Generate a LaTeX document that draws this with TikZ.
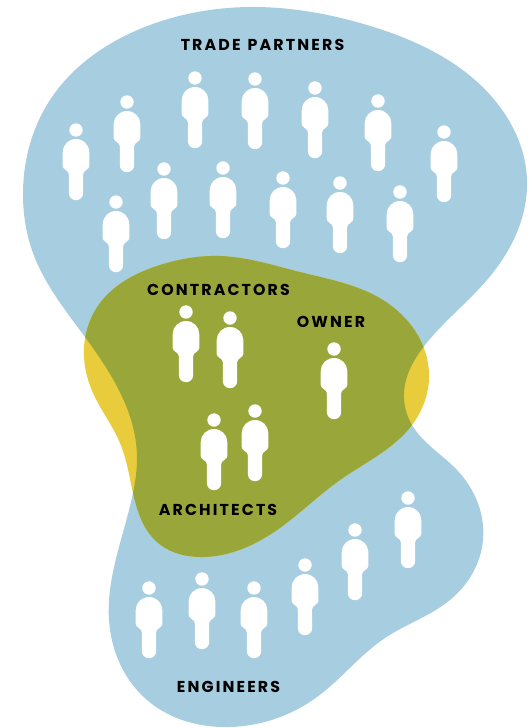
\documentclass[tikz,border=0pt]{standalone}
\usetikzlibrary{hobby}
\usepackage{fontspec}
\setmainfont{Poppins}[LetterSpace=13.5,WordSpace=1.3]
\definecolor{blobblue}{HTML}{A6CDE0}
\definecolor{blobyellow}{HTML}{E8CC3C}
\definecolor{blobolive}{HTML}{99A63A}
\newcommand{\blueoutline}{(250,7)..(367,25)..(500,107)..(527,180)..(487,280)..(425,345)..(404,393)..(412,425)..(457,470)..(483,540)..(450,600)..(385,638)..(317,697)..(230,727)..(147,700)..(109,620)..(133,493)..(137,457)..(85,337)..(33,253)..(23,195)..(50,100)..(150,25)}
\newcommand{\yellowoutline}{(84,347)..(100,303)..(160,265)..(220,256)..(300,272)..(383,300)..(429,373)..(412,425)..(340,480)..(277,530)..(203,557)..(157,542)..(133,493)..(120,443)..(93,393)}
\tikzset{
  x=1pt,y=-1pt,
  pics/person/.style={code={
    \fill[white] (0,0) circle[radius=6.7];
    \fill[white] (-13.3,22) .. controls (-13.3,14.8) and (-7.3,9) .. (0,9) .. controls (7.3,9) and (13.3,14.8) .. (13.3,22) -- (13.3,36)
      .. controls (13.3,39.5) and (7.2,40.5) .. (7.2,44) -- (7.2,63)
      .. controls (7.2,67) and (4,70.2) .. (0,70.2) .. controls (-4,70.2) and (-7.2,67) .. (-7.2,63) -- (-7.2,44)
      .. controls (-7.2,40.5) and (-13.3,39.5) .. (-13.3,36) -- cycle;
  }},
  lbl/.style={font=\fontsize{15.8}{17}\selectfont\bfseries,text=black,inner sep=0pt}
}
\begin{document}
\begin{tikzpicture}
\useasboundingbox (0,0) rectangle (531,728);
\fill[blobblue,use Hobby shortcut,closed=true] \blueoutline;
\fill[blobyellow,use Hobby shortcut,closed=true] \yellowoutline;
\begin{scope}
\clip[use Hobby shortcut,closed=true] \blueoutline;
\fill[blobolive,use Hobby shortcut,closed=true] \yellowoutline;
\end{scope}
\foreach \px/\py in {76/130,127/102,195/78,255/79,315/88,378/101,444/132,116/202,164/169,223/168,283/178,340/183,400/192,
  186/312,230/318,334/349,214/420,255/411,
  149/588,202/579,254/588,305/565,355/530,408/498}
  \pic at (\px,\py) {person};
\node[lbl] (trade) at (262.5,45) {TRADE PARTNERS};
\node[lbl] (contractors) at (218.5,290) {CONTRACTORS};
\node[lbl] (owner) at (331,322) {OWNER};
\node[lbl] (architects) at (218,510) {ARCHITECTS};
\node[lbl] (engineers) at (228.5,687) {ENGINEERS};
\end{tikzpicture}
\end{document}
